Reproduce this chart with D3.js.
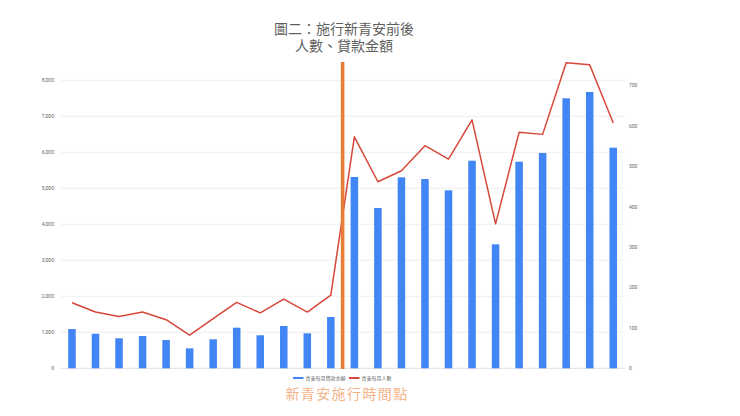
<!DOCTYPE html>
<html lang="zh-TW">
<head>
<meta charset="utf-8">
<script src="https://cdn.jsdelivr.net/npm/d3@7/dist/d3.min.js"></script>
<style>
  html, body { margin: 0; padding: 0; background: #fff; }
  svg { display: block; }
</style>
</head>
<body>
<div id="chart"></div>
<script>
// ---- Data ----
const categories = ["1","2","3","4","5","6","7","8","9","10","11","12","13","14","15","16","17","18","19","20","21","22","23","24"];
const loanAmounts = [1090, 960, 833, 897, 786, 556, 806, 1128, 917, 1175, 972, 1425,
                     5314, 4453, 5305, 5258, 4944, 5767, 3444, 5739, 5981, 7500, 7675, 6128];
const borrowers = [162, 139, 128, 139, 120, 82, 123, 163, 137, 171, 139, 181,
                   572, 461, 488, 550, 517, 614, 357, 583, 578, 755, 750, 606];
const leftTicks = [0, 1000, 2000, 3000, 4000, 5000, 6000, 7000, 8000];
const rightTicks = [0, 100, 200, 300, 400, 500, 600, 700];
const titleLines = ["圖二：施行新青安前後", "人數、貸款金額"];
const seriesNames = ["青安每月貸款金額", "青安每月人數"];
const markerLabel = "新青安施行時間點";
const markerAfterIndex = 11; // policy starts between 12th and 13th month

// ---- Layout ----
const W = 740, H = 416;
const svg = d3.select("#chart").append("svg").attr("width", W).attr("height", H);

const x = d3.scaleBand().domain(categories).range([60.2, 625]).paddingInner(0.68).paddingOuter(0.34);
const yL = d3.scaleLinear().domain([0, 8000]).range([368.3, 80.3]);
const yR = d3.scaleLinear().domain([0, 700]).range([368.3, 85]);

const fontFam = "Roboto, 'Noto Sans CJK TC', 'Noto Sans CJK SC', sans-serif";
const cjkFam = "'Liberation Sans', 'Noto Sans CJK TC', sans-serif";

// gridlines
svg.append("g").selectAll("line").data(leftTicks).join("line")
  .attr("x1", 61).attr("x2", 625)
  .attr("y1", d => yL(d)).attr("y2", d => yL(d))
  .attr("stroke", d => d === 0 ? "#d8d8d8" : "#ebebeb").attr("stroke-width", 0.8);

// left axis
const axL = d3.axisLeft(yL).tickValues(leftTicks).tickSize(0).tickPadding(4).tickFormat(d3.format(","));
const gL = svg.append("g").attr("transform", "translate(58,0)").call(axL);
gL.select(".domain").remove();
gL.selectAll("text").attr("fill", "#666").style("font-size", "5px").style("font-family", fontFam);

// right axis
const axR = d3.axisRight(yR).tickValues(rightTicks).tickSize(0).tickPadding(4).tickFormat(d3.format("d"));
const gR = svg.append("g").attr("transform", "translate(625,0)").call(axR);
gR.select(".domain").remove();
gR.selectAll("text").attr("fill", "#666").style("font-size", "5px").style("font-family", fontFam);

// bars
svg.append("g").selectAll("rect").data(loanAmounts).join("rect")
  .attr("x", (d, i) => x(categories[i]))
  .attr("width", x.bandwidth())
  .attr("y", d => yL(d))
  .attr("height", d => yL(0) - yL(d))
  .attr("fill", "#4285f4");

// line
const line = d3.line()
  .x((d, i) => x(categories[i]) + x.bandwidth() / 2)
  .y(d => yR(d));
svg.append("path").datum(borrowers)
  .attr("d", line)
  .attr("fill", "none")
  .attr("stroke", "#d6473a")
  .attr("stroke-width", 1.5)
  .attr("stroke-linejoin", "round");

// marker vertical line
const mx = (x(categories[markerAfterIndex]) + x.bandwidth() / 2 + x(categories[markerAfterIndex + 1]) + x.bandwidth() / 2) / 2;
svg.append("rect")
  .attr("x", mx - 1.8).attr("width", 3.6)
  .attr("y", 62).attr("height", 307)
  .attr("fill", "#e67e3a");

// title
svg.append("g").selectAll("text").data(titleLines).join("text")
  .attr("x", 344).attr("y", (d, i) => 34 + i * 17)
  .attr("text-anchor", "middle")
  .attr("fill", "#5f5f5f")
  .style("font-size", "14px")
  .style("font-family", cjkFam)
  .text(d => d);

// legend
const legendColors = ["#4285f4", "#d6473a"];
const legendX = [293, 349];
const lg = svg.append("g");
seriesNames.forEach((name, i) => {
  lg.append("line")
    .attr("x1", legendX[i]).attr("x2", legendX[i] + 10.5)
    .attr("y1", 378).attr("y2", 378)
    .attr("stroke", legendColors[i]).attr("stroke-width", 2);
  lg.append("text")
    .attr("x", legendX[i] + 12.5).attr("y", 379.8)
    .attr("fill", "#666")
    .style("font-size", "5px")
    .style("font-family", "'Noto Sans CJK TC', sans-serif")
    .text(name);
});

// marker label
svg.append("text")
  .attr("x", 347).attr("y", 399)
  .attr("text-anchor", "middle")
  .attr("fill", "#f4b48a")
  .style("font-size", "14px")
  .style("letter-spacing", "1.4px")
  .style("font-family", "'Noto Sans CJK TC', sans-serif")
  .text(markerLabel);
</script>
</body>
</html>
